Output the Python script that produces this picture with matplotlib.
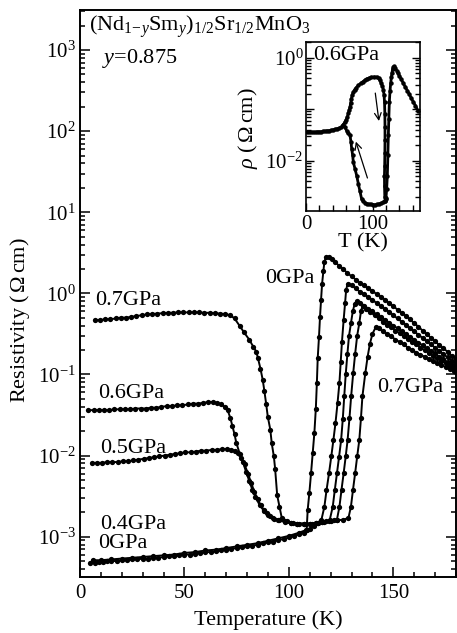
import numpy as np
import matplotlib
matplotlib.use("Agg")
import matplotlib.pyplot as plt
from matplotlib.ticker import LogLocator, MultipleLocator, FixedLocator, NullFormatter, FuncFormatter

plt.rcParams['font.family'] = ['Liberation Serif', 'DejaVu Serif']
plt.rcParams['mathtext.fontset'] = 'custom'
plt.rcParams['mathtext.rm'] = 'Liberation Serif'
plt.rcParams['mathtext.it'] = 'Liberation Serif:italic'
plt.rcParams['mathtext.bf'] = 'Liberation Serif:bold'

# ---------------- data: (T [K], log10 resistivity [Ohm cm]) ----------------
p00 = [(5,-3.32),(7,-3.32),(9,-3.31),(11,-3.31),(13,-3.30),(15,-3.30),(17.5,-3.30),(20,-3.29),
       (22.5,-3.29),(25,-3.28),(27.5,-3.28),(30,-3.27),(32.5,-3.27),(35,-3.26),(37.5,-3.26),(40,-3.25),
       (42.5,-3.24),(45,-3.24),(47.5,-3.23),(50,-3.22),(52.5,-3.22),(55,-3.21),(57.5,-3.20),(60,-3.19),
       (62.5,-3.19),(65,-3.18),(67.5,-3.17),(70,-3.16),(72.5,-3.15),(75,-3.14),(77.5,-3.13),(80,-3.12),
       (82.5,-3.11),(85,-3.10),(87.5,-3.08),(90,-3.07),(92.5,-3.06),(95,-3.04),(97.5,-3.03),(100,-3.01),
       (102.5,-2.99),(105,-2.97),(107,-2.95),(108.5,-2.92),
       (109,-2.67),(109.8,-2.46),(110.6,-2.22),(111.4,-1.97),(112.2,-1.72),(112.9,-1.42),(113.4,-1.10),
       (113.8,-0.80),(114.4,-0.54),(114.9,-0.29),(115.4,-0.08),(115.9,0.12),(116.5,0.27),(117.0,0.39),
       (117.8,0.45),(119,0.45),(120.5,0.42),(122,0.39),(124,0.34),(126,0.30),(128,0.25),(130,0.21),
       (132,0.17),(134,0.13),(136,0.10),(138,0.06),(140,0.03),(142,-0.01),(144,-0.04),(146,-0.08),
       (148,-0.12),(150,-0.16),(152,-0.20),(154,-0.24),(156,-0.28),(158,-0.32),(160,-0.37),(162,-0.41),
       (164,-0.46),(166,-0.50),(168,-0.55),(170,-0.59),(172,-0.64),(174,-0.68),(176,-0.72),(178,-0.77),
       (180,-0.81)]

p04 = [(6,-3.29),(10,-3.29),(15,-3.28),(20,-3.27),(25,-3.26),(30,-3.25),(35,-3.24),(40,-3.23),
       (45,-3.22),(50,-3.20),(55,-3.19),(60,-3.17),(65,-3.16),(70,-3.14),(75,-3.12),(80,-3.10),
       (85,-3.08),(90,-3.05),(95,-3.02),(100,-2.99),(105,-2.95),(108,-2.92),(110,-2.90),(112,-2.87),
       (114,-2.83),(115.5,-2.80),
       (117,-2.63),(118,-2.43),(119.2,-2.22),(120.3,-2.01),(121.3,-1.81),(122.3,-1.60),(123.3,-1.35),
       (124.2,-1.10),(124.8,-0.85),(125.4,-0.60),(126.2,-0.33),(126.9,-0.12),(127.4,0.04),(128.1,0.12),
       (130,0.10),(132,0.06),(134,0.02),(136,-0.01),(138,-0.05),(140,-0.08),(142,-0.12),(144,-0.16),
       (146,-0.19),(148,-0.23),(150,-0.27),(152,-0.31),(154,-0.35),(156,-0.39),(158,-0.43),(160,-0.47),
       (162,-0.51),(164,-0.55),(166,-0.59),(168,-0.63),(170,-0.67),(172,-0.71),(174,-0.75),(176,-0.79),
       (178,-0.83),(180,-0.87)]

p05 = [(5.6,-2.09),(8,-2.09),(10.5,-2.09),(13,-2.08),(15.5,-2.08),(18,-2.08),(20.5,-2.07),(23,-2.07),
       (25.5,-2.06),(28,-2.05),(30.5,-2.04),(33,-2.03),(35.5,-2.02),(38,-2.01),(40.5,-2.00),(43,-1.99),
       (45.5,-1.98),(48,-1.97),(50.5,-1.96),(53,-1.96),(55.5,-1.95),(58,-1.94),(60.5,-1.94),(63,-1.93),
       (65.5,-1.93),(68,-1.92),(70.5,-1.92),(72.5,-1.93),(74,-1.94),(75.6,-1.97),(77,-2.03),(78.8,-2.11),
       (80.5,-2.23),(82,-2.34),(83.5,-2.45),(85,-2.54),(86.5,-2.61),(88,-2.67),(89.5,-2.71),(91,-2.75),
       (93,-2.78),(95.5,-2.80),(98,-2.82),(101,-2.83),(104,-2.84),(107,-2.84),(110,-2.84),(113,-2.83),
       (116,-2.82),(118,-2.81),(119.5,-2.80),
       (121,-2.63),(122,-2.42),(123,-2.22),(124,-2.02),(125,-1.81),(125.8,-1.55),(126.5,-1.27),
       (127.2,-1.00),(128,-0.75),(128.8,-0.52),(129.7,-0.37),(130.6,-0.22),(131.5,-0.13),(132.4,-0.10),
       (134,-0.12),(136,-0.15),(138,-0.19),(140,-0.22),(142,-0.26),(144,-0.29),(146,-0.33),(148,-0.36),
       (150,-0.40),(152,-0.43),(154,-0.47),(156,-0.50),(158,-0.54),(160,-0.57),(162,-0.61),(164,-0.64),
       (166,-0.68),(168,-0.71),(170,-0.74),(172,-0.78),(174,-0.81),(176,-0.85),(178,-0.88),(180,-0.91)]

p06 = [(4,-1.44),(6.5,-1.44),(9,-1.44),(11.5,-1.44),(14,-1.44),(16.5,-1.43),(19,-1.43),(21.5,-1.43),
       (24,-1.43),(26.5,-1.42),(29,-1.42),(31.5,-1.42),(34,-1.41),(36.5,-1.41),(39,-1.40),(41.5,-1.39),
       (44,-1.39),(46.5,-1.38),(49,-1.38),(51.5,-1.37),(54,-1.36),(56.5,-1.36),(59,-1.35),(61.5,-1.34),
       (63.6,-1.34),(65.5,-1.35),(67.5,-1.37),(69.5,-1.40),(70.7,-1.44),(72,-1.54),(73,-1.64),(74,-1.74),
       (74.8,-1.84),(76.5,-1.98),(78,-2.08),(79.5,-2.20),(81,-2.31),(82.5,-2.42),(84,-2.51),(86,-2.61),
       (88,-2.68),(90,-2.73),(92.5,-2.77),(95,-2.79),(98,-2.81),(101,-2.83),(104,-2.84),(107,-2.84),
       (110,-2.84),(113,-2.83),(116,-2.82),(119,-2.81),(121.5,-2.80),(123,-2.79),
       (124.2,-2.63),(125.2,-2.42),(126.2,-2.22),(127.2,-2.01),(128.1,-1.81),(129,-1.54),(129.8,-1.27),
       (130.8,-0.98),(131.7,-0.75),(132.7,-0.52),(133.7,-0.37),(134.5,-0.22),(135.3,-0.15),
       (137,-0.19),(139,-0.23),(141,-0.27),(143,-0.31),(145,-0.35),(147,-0.39),(149,-0.42),(151,-0.46),
       (153,-0.49),(155,-0.53),(157,-0.56),(159,-0.60),(161,-0.63),(163,-0.67),(165,-0.70),(167,-0.73),
       (169,-0.77),(171,-0.80),(173,-0.83),(175,-0.86),(177,-0.89),(179,-0.92),(180,-0.93)]

p07 = [(7,-0.33),(9.5,-0.33),(12,-0.32),(14.5,-0.32),(17,-0.31),(19.5,-0.30),(22,-0.30),(24.5,-0.29),
       (27,-0.28),(29.5,-0.27),(32,-0.26),(34.5,-0.255),(37,-0.25),(39.5,-0.245),(42,-0.24),(44.5,-0.24),
       (47,-0.235),(49.5,-0.235),(52,-0.235),(54.5,-0.235),(57,-0.235),(59.5,-0.24),(62,-0.24),
       (64.5,-0.245),(67,-0.25),(69.5,-0.255),(72,-0.27),(74,-0.31),(76.4,-0.40),(78.5,-0.48),(81,-0.57),
       (83,-0.66),(84.4,-0.72),(85.2,-0.80),(86.4,-0.93),(87.5,-1.07),(88.3,-1.21),(89.1,-1.36),
       (89.9,-1.52),(91.1,-1.68),(91.8,-1.85),(92.8,-2.01),(93.4,-2.16),(94.4,-2.49),(95.5,-2.63),
       (96.6,-2.77),(99,-2.81),(102,-2.83),(105,-2.84),(108,-2.84),(111,-2.84),(114,-2.83),(117,-2.82),
       (120,-2.81),(123,-2.80),(126,-2.79),(128.5,-2.77),
       (129.7,-2.63),(130.7,-2.42),(131.7,-2.22),(132.7,-2.01),(133.7,-1.81),(134.5,-1.54),(135.2,-1.27),
       (136.6,-0.98),(137.7,-0.78),(138.8,-0.62),(140,-0.50),(141.5,-0.42),
       (143,-0.43),(145,-0.47),(147,-0.50),(149,-0.53),(151,-0.57),(153,-0.60),(155,-0.63),(157,-0.67),
       (159,-0.70),(161,-0.73),(163,-0.76),(165,-0.78),(167,-0.81),(169,-0.83),(171,-0.86),(173,-0.88),
       (175,-0.91),(177,-0.93),(179,-0.96),(180,-0.97)]

# inset: 0.6 GPa thermal hysteresis
inset_cooling = [(2,-1.45),(5,-1.45),(8,-1.45),(11,-1.45),(14,-1.45),(17,-1.44),(20,-1.44),(23,-1.44),
       (26,-1.43),(29,-1.43),(32,-1.42),(35,-1.42),(38,-1.41),(41,-1.40),(44,-1.39),(47,-1.38),
       (50,-1.37),(53,-1.35),(56,-1.31),(58,-1.34),(61,-1.42),(63.5,-1.47),(66,-1.51),(67.5,-1.64),
       (68.5,-1.77),(70,-1.90),(71,-2.03),(73.5,-2.16),(76,-2.29),(78.5,-2.45),(81,-2.60),(83.5,-2.75),
       (86,-2.79),(89,-2.82),(92,-2.84),(95,-2.85),(98,-2.85),(101,-2.86),(104,-2.86),(107,-2.85),
       (110,-2.84),(113,-2.83),(116,-2.81),(118,-2.79),(120,-2.72),(121,-2.55),(122,-2.29),(122.8,-1.90),
       (123.5,-1.51),(124.2,-1.20),(125,-0.86),(126,-0.65),(127,-0.50),(128,-0.38),(129,-0.29),
       (130,-0.22),(131,-0.19),(132.5,-0.17),(134,-0.21),(136,-0.25),(138,-0.30),(140,-0.35),(143,-0.42),
       (146,-0.50),(149,-0.57),(152,-0.64),(155,-0.71),(158,-0.79),(161,-0.86),(164,-0.93),(168,-1.03)]

inset_warming = [(56,-1.30),(58,-1.26),(60,-1.21),(62,-1.15),(63.5,-1.08),(65,-1.01),(66,-0.96),
       (67,-0.88),(68,-0.80),(69.5,-0.72),(71,-0.67),(73,-0.62),(75.5,-0.58),(78.5,-0.54),(82,-0.50),
       (85,-0.47),(88,-0.44),(91,-0.41),(94,-0.40),(98,-0.38),(102,-0.375),(106,-0.375),(109,-0.40),
       (111,-0.44),(113,-0.50),(114.5,-0.55),(116,-0.62),(117,-0.72),(117.8,-0.86),(118.3,-1.10),
       (118.5,-1.35),(118.5,-1.60),(118.3,-1.85),(118,-2.10),(117.7,-2.29),(117.8,-2.50),(118.2,-2.70),
       (119,-2.78),(120,-2.75)]

curves = [("0GPa", p00), ("0.4GPa", p04), ("0.5GPa", p05), ("0.6GPa", p06), ("0.7GPa", p07)]
main_decades = [1e-3, 1e-2, 1e-1, 1e0, 1e1, 1e2, 1e3]
inset_decades = [1e-3, 1e-2, 1e-1, 1e0]

# ---------------- figure ----------------
fig = plt.figure(figsize=(4.57, 6.33), dpi=100)
W, H = 457, 633
ax = fig.add_axes([80/W, 1-577/H, (456-80)/W, (577-10)/H])

for name, pts in curves:
    a = np.array(pts)
    ax.plot(a[:, 0], 10**a[:, 1], '-o', color='k', lw=1.4, ms=3.8, mew=0)

ax.set_yscale('log')
ax.set_xlim(0, 180)
ax.set_ylim(10**-3.497, 10**3.493)
ax.xaxis.set_major_locator(FixedLocator([0, 50, 100, 150]))
ax.xaxis.set_minor_locator(MultipleLocator(10))
ax.yaxis.set_major_locator(FixedLocator(main_decades))
ax.yaxis.set_minor_locator(LogLocator(base=10, subs=np.arange(2, 10), numticks=20))
ax.yaxis.set_minor_formatter(NullFormatter())
ax.yaxis.set_major_formatter(FuncFormatter(lambda v, p: '$\\mathdefault{10^{%d}}$' % int(round(np.log10(v)))))
ax.tick_params(which='both', direction='in', right=True, top=False, width=1.1, labelsize=15)
ax.tick_params(which='major', length=7)
ax.tick_params(which='minor', length=3.8)
ax.tick_params(axis='x', pad=5)
ax.tick_params(axis='y', pad=3)
for s in ax.spines.values():
    s.set_linewidth(1.4)

ax.set_xlabel('Temperature (K)', fontsize=16)
ax.xaxis.set_label_coords(0.5, -0.058)
ax.set_ylabel('Resistivity ($\\,\\Omega\\,$cm)', fontsize=16)
ax.yaxis.set_label_coords(-0.128, 0.453)

tk = dict(fontsize=16, transform=ax.transAxes, va='baseline')
ax.text(0.024, 0.963, '(Nd$_{1\\!-\\!y}$Sm$_{y}$)$_{1/2}$Sr$_{1/2}$MnO$_{3}$', **tk)
ax.text(0.058, 0.9065, '$y$=0.875', **tk)
ax.text(0.040, 0.4797, '0.7GPa', **tk)
ax.text(0.048, 0.3157, '0.6GPa', **tk)
ax.text(0.053, 0.2187, '0.5GPa', **tk)
ax.text(0.053, 0.0847, '0.4GPa', **tk)
ax.text(0.048, 0.0511, '0GPa', **tk)
ax.text(0.625, 0.5185, '0GPa', ha='right', **tk)
ax.text(0.790, 0.3263, '0.7GPa', **tk)

# ---------------- inset ----------------
axi = fig.add_axes([306/W, 1-210.5/H, (420-306)/W, (210.5-41.7)/H])
for pts in (inset_cooling, inset_warming):
    a = np.array(pts)
    axi.plot(a[:, 0], 10**a[:, 1], '-o', color='k', lw=2.0, ms=3.2, mew=0)
axi.set_yscale('log')
axi.set_xlim(0, 171)
axi.set_ylim(10**-2.97, 10**0.31)
axi.xaxis.set_major_locator(FixedLocator([0, 100]))
axi.xaxis.set_minor_locator(MultipleLocator(20))
axi.yaxis.set_major_locator(FixedLocator(inset_decades))
axi.yaxis.set_minor_locator(LogLocator(base=10, subs=np.arange(2, 10), numticks=10))
axi.yaxis.set_minor_formatter(NullFormatter())

def inset_fmt(v, pos):
    e = int(round(np.log10(v)))
    if e in (0, -2):
        return '$\\mathdefault{10^{%d}}$' % e
    return ''
axi.yaxis.set_major_formatter(FuncFormatter(inset_fmt))
axi.tick_params(which='both', direction='in', right=True, top=False, width=1.0, labelsize=15)
axi.tick_params(which='major', length=6)
axi.tick_params(which='minor', length=3.5)
axi.tick_params(axis='x', which='minor', length=4.5)
axi.tick_params(axis='x', pad=3)
axi.tick_params(axis='y', pad=2)
for s in axi.spines.values():
    s.set_linewidth(1.2)
axi.set_xlabel('T (K)', fontsize=16, labelpad=0)
axi.set_ylabel('$\\rho$ ($\\,\\Omega\\,$cm)', fontsize=16, labelpad=0)
axi.yaxis.set_label_coords(-0.40, 0.49)
axi.text(0.061, 0.892, '0.6GPa', fontsize=16, transform=axi.transAxes, va='baseline')

axi.annotate('', xy=(109.9, 10**-1.285), xytext=(103.4, 10**-0.635),
             arrowprops=dict(arrowstyle='->', lw=0.9, color='k', mutation_scale=12))
axi.annotate('', xy=(73.5, 10**-1.58), xytext=(93.4, 10**-2.39),
             arrowprops=dict(arrowstyle='->', lw=0.9, color='k', mutation_scale=12))

fig.savefig('out.png', dpi=100)
